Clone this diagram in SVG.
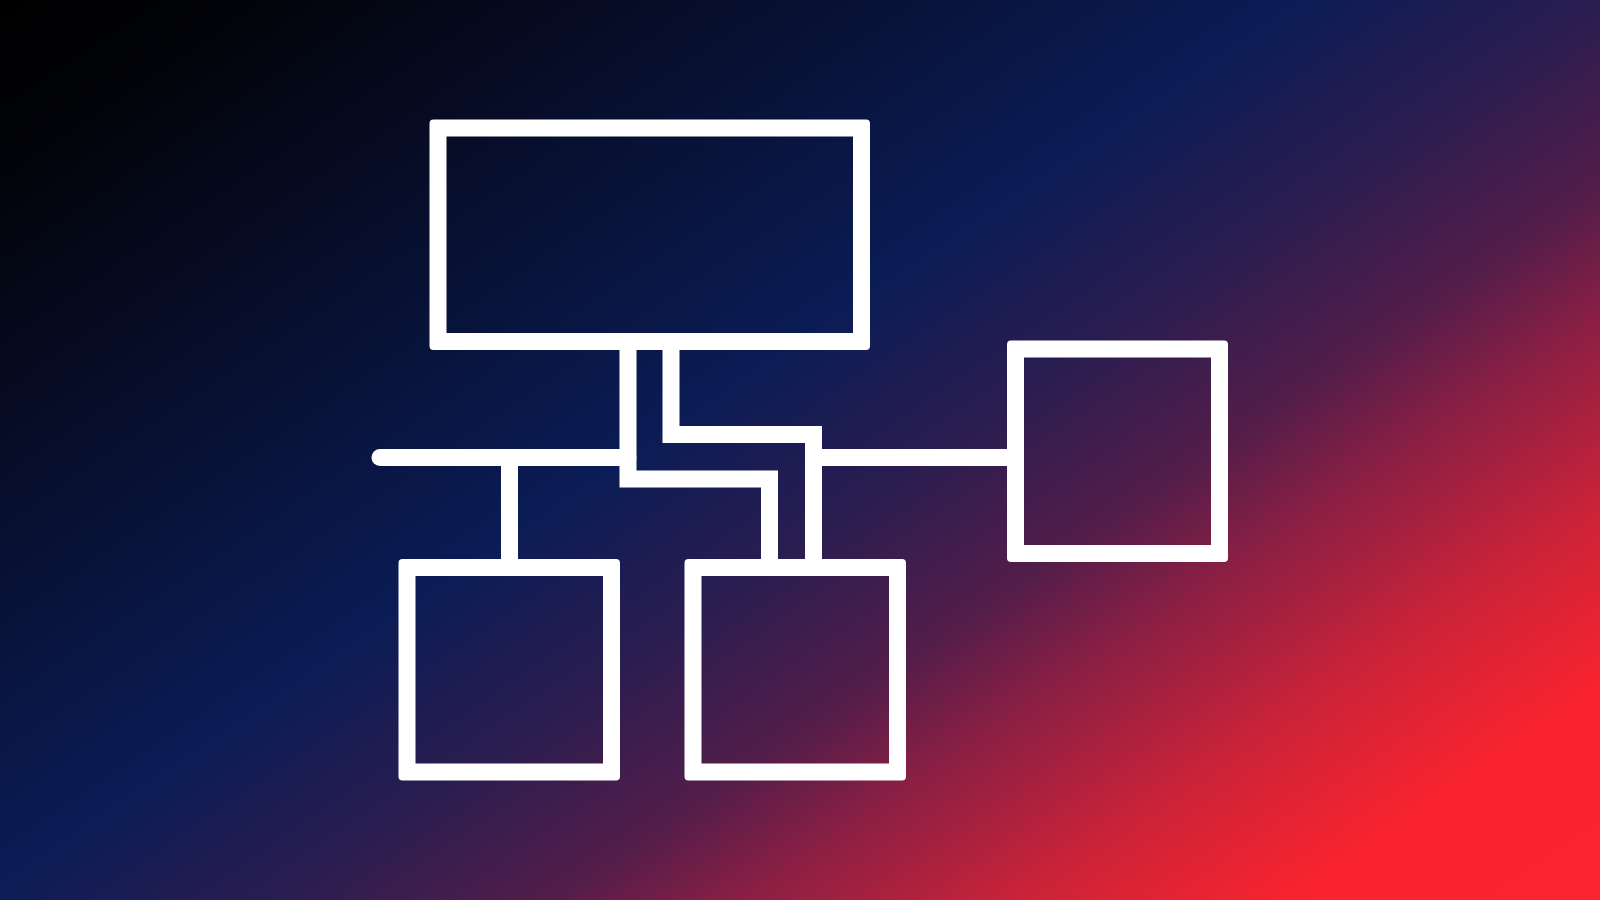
<svg xmlns="http://www.w3.org/2000/svg" width="1600" height="900" viewBox="0 0 1600 900">
  <defs>
    <linearGradient id="bg" gradientUnits="userSpaceOnUse" x1="0" y1="0" x2="927" y2="1365">
      <stop offset="0" stop-color="#000000"/>
      <stop offset="0.08" stop-color="#020308"/>
      <stop offset="0.23" stop-color="#070d28"/>
      <stop offset="0.44" stop-color="#0b1c55"/>
      <stop offset="0.545" stop-color="#2a1d50"/>
      <stop offset="0.64" stop-color="#541d4a"/>
      <stop offset="0.70" stop-color="#881f44"/>
      <stop offset="0.80" stop-color="#cc2338"/>
      <stop offset="0.89" stop-color="#f9232f"/>
      <stop offset="1" stop-color="#fb2432"/>
    </linearGradient>
  </defs>
  <style>
    .node { fill: #ffffff; fill-rule: evenodd; }
    .wire { fill: none; stroke: #ffffff; stroke-width: 17; stroke-linejoin: miter; stroke-linecap: butt; }
    .wire.round { stroke-linecap: round; }
  </style>
  <rect x="0" y="0" width="1600" height="900" fill="url(#bg)"/>

  <g id="connectors">
    <path class="wire round" d="M380,457.5 H628"/>
    <path class="wire" d="M628,341.5 V479 H769.5 V567.5"/>
    <path class="wire" d="M671,341.5 V434.5 H813.5 V567.5"/>
    <path class="wire" d="M813.5,457.5 H1015.5"/>
    <path class="wire" d="M509.5,457.5 V567.5"/>
  </g>

  <g id="node-top">
    <path class="node" d="M433.5,119.5 H866 A4,4 0 0 1 870,123.5 V346 A4,4 0 0 1 866,350 H433.5 A4,4 0 0 1 429.5,346 V123.5 A4,4 0 0 1 433.5,119.5 Z M446.5,136.5 V333 H853 V136.5 Z"/>
  </g>
  <g id="node-bottom-left">
    <path class="node" d="M402.5,559 H616 A4,4 0 0 1 620,563 V776.5 A4,4 0 0 1 616,780.5 H402.5 A4,4 0 0 1 398.5,776.5 V563 A4,4 0 0 1 402.5,559 Z M415.5,576 V763.5 H603 V576 Z"/>
  </g>
  <g id="node-bottom-middle">
    <path class="node" d="M688.5,559 H902 A4,4 0 0 1 906,563 V776.5 A4,4 0 0 1 902,780.5 H688.5 A4,4 0 0 1 684.5,776.5 V563 A4,4 0 0 1 688.5,559 Z M701.5,576 V763.5 H889 V576 Z"/>
  </g>
  <g id="node-right">
    <path class="node" d="M1011,340.5 H1224 A4,4 0 0 1 1228,344.5 V558 A4,4 0 0 1 1224,562 H1011 A4,4 0 0 1 1007,558 V344.5 A4,4 0 0 1 1011,340.5 Z M1024,357.5 V545 H1211 V357.5 Z"/>
  </g>
</svg>
